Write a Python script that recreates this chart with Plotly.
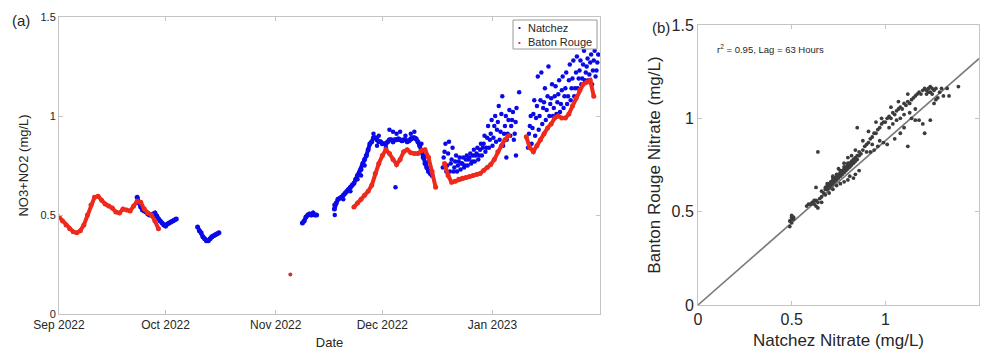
import numpy as np
import pandas as pd
import plotly.graph_objects as go

# ---------------- Panel (a) data: NO3+NO2 (mg/L) ----------------
# Baton Rouge (red) segments: start day (from 2022-09-01), daily readings
br_seg1_start = 0.0
br_seg1 = [0.49, 0.47, 0.45, 0.43, 0.415, 0.41, 0.42, 0.45, 0.50, 0.55, 0.59, 0.595, 0.575, 0.555,
           0.545, 0.535, 0.515, 0.51, 0.53, 0.525, 0.52, 0.545, 0.57, 0.565, 0.53, 0.51, 0.50, 0.47, 0.43]
br_single_day = [65.1]
br_single_val = [0.20]
br_seg2_start = 83.0
br_seg2 = [0.54, 0.56, 0.58, 0.60, 0.62, 0.65, 0.71, 0.76, 0.80, 0.83, 0.81, 0.78, 0.755, 0.78,
           0.82, 0.83, 0.815, 0.81, 0.81, 0.825, 0.83, 0.79, 0.72, 0.64]
br_seg3_start = 108.5
br_seg3 = [0.76, 0.70, 0.665, 0.67, 0.68, 0.685, 0.69, 0.695, 0.70, 0.705, 0.71, 0.725, 0.74,
           0.755, 0.78, 0.82, 0.85, 0.88, 0.90]
br_seg4_start = 131.5
br_seg4 = [0.895, 0.84, 0.82, 0.85, 0.88, 0.91, 0.94, 0.96, 0.99, 1.00, 0.99, 0.99, 1.01, 1.05,
           1.09, 1.13, 1.16, 1.17, 1.18, 1.10]

# Natchez (blue) continuous segments: start day, half-day readings
nz_segA_start = 22.0
nz_segA = [0.59, 0.56, 0.54, 0.525, 0.52, 0.515, 0.505, 0.50, 0.50, 0.505, 0.51, 0.495, 0.48,
           0.47, 0.46, 0.45, 0.445, 0.455, 0.46, 0.465, 0.47, 0.475, 0.48]
nz_segB_start = 39.0
nz_segB = [0.44, 0.42, 0.41, 0.39, 0.38, 0.37, 0.37, 0.38, 0.39, 0.395, 0.40, 0.405, 0.41]
nz_segC_start = 68.5
nz_segC = [0.46, 0.47, 0.49, 0.50, 0.505, 0.50, 0.51, 0.50, 0.50]
nz_segD_start = 77.5
nz_segD = [0.53, 0.56, 0.58, 0.585, 0.59, 0.60, 0.61, 0.62, 0.63, 0.64,
           0.65, 0.66, 0.68, 0.70, 0.71, 0.73, 0.76, 0.78, 0.80, 0.83,
           0.86, 0.87, 0.89, 0.89, 0.88, 0.87, 0.87, 0.86, 0.86, 0.86,
           0.87, 0.88, 0.88, 0.87, 0.88, 0.88, 0.885, 0.88, 0.875, 0.88,
           0.88, 0.87, 0.875, 0.885, 0.89, 0.89, 0.885, 0.87, 0.85, 0.82,
           0.79, 0.76, 0.74, 0.72, 0.71, 0.70]
# Natchez isolated / scattered readings
nz_extra_day = [77.5, 77.6, 80.0, 82.0, 84.0, 85.0, 86.0, 88.5, 89.5, 90.0, 92.0, 93.0, 94.0, 94.7,
                95.0, 96.0, 97.5, 99.0, 100.0, 102.0, 103.0, 104.0, 125.9, 128.6, 129.5]
nz_extra_val = [0.55, 0.50, 0.58, 0.62, 0.68, 0.70, 0.75, 0.91, 0.85, 0.90, 0.84, 0.93, 0.92, 0.64,
                0.91, 0.92, 0.90, 0.91, 0.92, 0.86, 0.80, 0.77, 0.79, 0.80, 1.12]
# Natchez scattered segments: four daily readings (low / two middle / high)
nz_segE_start = 108.0
nz_segE_low = [0.74, 0.72, 0.72, 0.72, 0.72, 0.73, 0.74, 0.75, 0.76, 0.77, 0.78, 0.80, 0.82,
               0.84, 0.85, 0.87, 0.88, 0.85, 0.88, 0.90, 0.88]
nz_segE_mid1 = [0.79, 0.75, 0.76, 0.74, 0.75, 0.76, 0.75, 0.78, 0.77, 0.80, 0.80, 0.84, 0.84,
                0.88, 0.89, 0.93, 0.92, 0.91, 0.91, 0.95, 0.91]
nz_segE_mid2 = [0.82, 0.81, 0.78, 0.77, 0.77, 0.76, 0.78, 0.79, 0.80, 0.81, 0.83, 0.86, 0.89,
                0.91, 0.95, 0.97, 1.01, 0.95, 0.98, 0.98, 0.97]
nz_segE_high = [0.86, 0.87, 0.84, 0.80, 0.79, 0.79, 0.80, 0.81, 0.83, 0.84, 0.86, 0.90, 0.95,
                0.98, 1.00, 1.05, 1.10, 1.00, 1.03, 1.02, 1.04]
nz_segF_start = 132.0
nz_segF_low = [0.84, 0.86, 0.90, 0.93, 0.96, 0.98, 1.00, 1.00, 1.01, 1.02, 1.04, 1.06, 1.08,
               1.10, 1.14, 1.16, 1.18, 1.18, 1.16, 1.20]
nz_segF_mid1 = [0.91, 0.94, 0.99, 1.00, 1.04, 1.03, 1.06, 1.04, 1.07, 1.06, 1.10, 1.10, 1.14,
                1.14, 1.19, 1.19, 1.22, 1.21, 1.23, 1.23]
nz_segF_mid2 = [0.95, 1.01, 1.05, 1.08, 1.07, 1.10, 1.09, 1.10, 1.11, 1.13, 1.14, 1.18, 1.19,
                1.22, 1.23, 1.26, 1.25, 1.27, 1.28, 1.27]
nz_segF_high = [1.00, 1.08, 1.20, 1.22, 1.14, 1.25, 1.16, 1.15, 1.18, 1.20, 1.22, 1.26, 1.28,
                1.30, 1.28, 1.33, 1.29, 1.31, 1.33, 1.31]

month_ticks = ["2022-09-01", "2022-10-01", "2022-11-01", "2022-12-01", "2023-01-01"]
month_labels = ["Sep 2022", "Oct 2022", "Nov 2022", "Dec 2022", "Jan 2023"]
val_ticks = [0, 0.5, 1, 1.5]
val_labels = ["0", "0.5", "1", "1.5"]
legend_names = ["Natchez", "Baton Rouge"]

# ---------------- Panel (b) data: lagged Natchez vs Baton Rouge ----------------
sc_x = [0.49, 0.50, 0.50, 0.51, 0.50, 0.49, 0.51, 0.50,
        0.58, 0.59, 0.60, 0.61, 0.62, 0.63, 0.63, 0.64, 0.65, 0.64, 0.62, 0.66, 0.66, 0.67, 0.68, 0.69, 0.68,
        0.69, 0.70, 0.70, 0.71, 0.71, 0.72, 0.72, 0.73, 0.73, 0.74, 0.74, 0.75, 0.75, 0.76, 0.76, 0.77, 0.77,
        0.78, 0.78, 0.79, 0.79, 0.80, 0.80, 0.81, 0.81, 0.82, 0.82, 0.83, 0.83, 0.84, 0.84, 0.85, 0.85, 0.86,
        0.86, 0.87,
        0.74, 0.76, 0.78, 0.80, 0.81, 0.83, 0.84, 0.86, 0.72, 0.70,
        0.72, 0.75, 0.78, 0.80, 0.82, 0.84,
        0.64, 0.85, 0.63,
        0.88, 0.89, 0.90, 0.91, 0.92, 0.93, 0.94, 0.95, 0.96, 0.97, 0.98, 0.99, 0.90, 0.92, 0.94, 0.96, 0.93,
        0.97, 0.99, 0.91, 0.95, 0.98, 0.88,
        1.00, 1.01, 1.02, 1.03, 1.04, 1.05, 1.06, 1.07, 1.08, 1.09, 1.10, 1.11, 1.12, 1.13, 1.14, 1.15, 1.16,
        1.17, 1.18, 1.19, 1.20, 1.02, 1.04, 1.06, 1.08, 1.05, 1.10, 1.12, 1.01, 1.08, 1.14, 1.16, 1.18, 1.20,
        1.21, 1.10, 1.13, 1.16, 1.03, 1.07, 1.12,
        1.21, 1.22, 1.23, 1.24, 1.25, 1.26, 1.27, 1.24, 1.22, 1.23, 1.25, 1.24, 1.27, 1.31, 1.34, 1.33, 1.39,
        1.30, 1.28, 1.26, 1.29,
        0.66, 0.68, 0.70, 0.71, 0.73, 0.75, 0.77, 0.79, 0.81, 0.83, 0.69, 0.72, 0.74, 0.76, 0.78, 0.80]
sc_y = [0.45, 0.46, 0.47, 0.47, 0.44, 0.42, 0.46, 0.48,
        0.53, 0.54, 0.54, 0.55, 0.54, 0.53, 0.56, 0.55, 0.57, 0.52, 0.56, 0.55, 0.58, 0.60, 0.59, 0.62, 0.63,
        0.64, 0.63, 0.65, 0.66, 0.64, 0.65, 0.67, 0.66, 0.68, 0.67, 0.69, 0.68, 0.70, 0.69, 0.71, 0.70, 0.72,
        0.71, 0.73, 0.72, 0.74, 0.73, 0.75, 0.74, 0.76, 0.75, 0.77, 0.76, 0.78, 0.77, 0.79, 0.80, 0.78, 0.80,
        0.82, 0.81,
        0.64, 0.65, 0.66, 0.67, 0.69, 0.68, 0.70, 0.72, 0.62, 0.60,
        0.69, 0.73, 0.76, 0.79, 0.80, 0.83,
        0.82, 0.95, 0.63,
        0.83, 0.85, 0.86, 0.87, 0.89, 0.90, 0.92, 0.92, 0.94, 0.95, 0.97, 0.98, 0.82, 0.82, 0.83, 0.85, 0.86,
        0.88, 0.87, 0.93, 0.98, 1.00, 0.88,
        0.98, 1.00, 1.01, 1.00, 1.03, 1.02, 1.04, 1.05, 1.06, 1.05, 1.08, 1.07, 1.09, 1.08, 1.10, 1.11, 1.12,
        1.13, 1.14, 1.13, 1.15, 0.95, 0.97, 0.99, 1.00, 0.89, 0.95, 0.85, 0.86, 0.92, 1.00, 0.99, 0.99, 0.97,
        0.92, 1.02, 1.03, 1.05, 1.06, 1.09, 1.13,
        1.16, 1.15, 1.16, 1.17, 1.16, 1.15, 1.16, 1.14, 1.13, 1.14, 1.13, 0.99, 1.10, 1.12, 1.12, 1.16, 1.17,
        1.16, 1.11, 1.08, 1.14,
        0.61, 0.62, 0.64, 0.66, 0.67, 0.69, 0.71, 0.73, 0.74, 0.77, 0.65, 0.68, 0.70, 0.72, 0.74, 0.76]
fit_x = [0.0, 1.5]
fit_y = [0.0, 1.32]
stats_text = "r<sup>2</sup> = 0.95, Lag = 63 Hours"

# ---------------- build series ----------------
base = pd.Timestamp("2022-09-01")


def seg_days(start, vals, step):
    return list(start + step * np.arange(len(vals)))


def to_dates(days):
    return [None if d is None else base + pd.Timedelta(days=float(d)) for d in days]


def join_segments(segs, step):
    days, vals = [], []
    for start, v in segs:
        if days:
            days.append(None)
            vals.append(None)
        days += seg_days(start, v, step)
        vals += v
    return days, vals


br_days, br_vals = join_segments([(br_seg1_start, br_seg1), (br_seg2_start, br_seg2),
                                  (br_seg3_start, br_seg3), (br_seg4_start, br_seg4)], 1.0)
nz_days, nz_vals = join_segments([(nz_segA_start, nz_segA), (nz_segB_start, nz_segB),
                                  (nz_segC_start, nz_segC), (nz_segD_start, nz_segD)], 0.5)
nzs_days, nzs_vals = list(nz_extra_day), list(nz_extra_val)
for start, arrs in [(nz_segE_start, [nz_segE_low, nz_segE_mid1, nz_segE_mid2, nz_segE_high]),
                    (nz_segF_start, [nz_segF_low, nz_segF_mid1, nz_segF_mid2, nz_segF_high])]:
    for k, arr in enumerate(arrs):
        nzs_days += seg_days(start + 0.25 * k, arr, 1.0)
        nzs_vals += arr

FONT = "Liberation Sans, Arial, Helvetica, sans-serif"
AX = "#c4c4c4"
TXT = "#262626"
BLUE = "#0a0ae8"
RED = "#ee2a1c"

fig = go.Figure()
fig.add_trace(go.Scatter(x=to_dates(nz_days), y=nz_vals, mode="lines+markers", name=legend_names[0],
                         line=dict(color=BLUE, width=4), marker=dict(color=BLUE, size=5),
                         connectgaps=False, xaxis="x", yaxis="y", showlegend=False))
fig.add_trace(go.Scatter(x=to_dates(nzs_days), y=nzs_vals, mode="markers", name=legend_names[0],
                         marker=dict(color=BLUE, size=4.5), xaxis="x", yaxis="y", showlegend=False))
fig.add_trace(go.Scatter(x=to_dates(br_days), y=br_vals, mode="lines+markers", name=legend_names[1],
                         line=dict(color=RED, width=4), marker=dict(color=RED, size=5),
                         connectgaps=False, xaxis="x", yaxis="y", showlegend=False))
fig.add_trace(go.Scatter(x=to_dates(br_single_day), y=br_single_val, mode="markers", name=legend_names[1],
                         marker=dict(color="#c8323a", size=4), xaxis="x", yaxis="y", showlegend=False))
fig.add_trace(go.Scatter(x=fit_x, y=fit_y, mode="lines", showlegend=False,
                         line=dict(color="#7a7a7a", width=1.6), xaxis="x2", yaxis="y2"))
fig.add_trace(go.Scatter(x=sc_x, y=sc_y, mode="markers", showlegend=False,
                         marker=dict(color="#3c3c3c", size=3.8), xaxis="x2", yaxis="y2"))

common = dict(showline=True, linecolor=AX, linewidth=1, mirror="ticks", ticks="inside", ticklen=4,
              tickcolor=AX, showgrid=False, zeroline=False, fixedrange=True, automargin=False)

W, H = 988, 350


def px(x):
    return x / W


def py(y):
    return 1 - y / H


annotations = [
    dict(text="(a)", x=px(10), y=py(20), xanchor="left", yanchor="middle", font=dict(size=15, color=TXT)),
    dict(text="(b)", x=px(650), y=py(28), xanchor="left", yanchor="middle", font=dict(size=15, color=TXT)),
    dict(text=legend_names[0], x=px(526), y=py(28), xanchor="left", yanchor="middle",
         font=dict(size=11, color=TXT)),
    dict(text=legend_names[1], x=px(526), y=py(42), xanchor="left", yanchor="middle",
         font=dict(size=11, color=TXT)),
    dict(text="\u2022", x=px(519.5), y=py(28), xanchor="center", yanchor="middle",
         font=dict(size=8, color=BLUE)),
    dict(text="\u2022", x=px(519.5), y=py(42), xanchor="center", yanchor="middle",
         font=dict(size=8, color=RED)),
]
for a in annotations:
    a.update(xref="paper", yref="paper", showarrow=False)
annotations.append(dict(text=stats_text, x=0.09, y=1.37, xref="x2", yref="y2", xanchor="left",
                        yanchor="middle", showarrow=False, font=dict(size=9.5, color=TXT)))

fig.update_layout(
    width=W, height=H,
    margin=dict(l=0, r=0, t=0, b=0, autoexpand=False),
    paper_bgcolor="white", plot_bgcolor="white",
    font=dict(family=FONT, color=TXT),
    showlegend=False,
    xaxis=dict(domain=[px(59), px(600)], anchor="y", type="date",
               range=["2022-09-01", "2023-01-31 06:00"], tickvals=month_ticks, ticktext=month_labels,
               tickfont=dict(size=12, color=TXT), title=dict(text="Date", font=dict(size=13), standoff=6),
               **common),
    yaxis=dict(domain=[py(314), py(17)], anchor="x", range=[0, 1.5],
               tickvals=val_ticks, ticktext=val_labels, tickfont=dict(size=11, color=TXT),
               title=dict(text="NO3+NO2 (mg/L)", font=dict(size=13), standoff=8), **common),
    xaxis2=dict(domain=[px(698), px(979)], anchor="y2", range=[0, 1.5],
                tickvals=val_ticks, ticktext=val_labels, tickfont=dict(size=16, color=TXT),
                title=dict(text="Natchez Nitrate (mg/L)", font=dict(size=17), standoff=6), **common),
    yaxis2=dict(domain=[py(305), py(25)], anchor="x2", range=[0, 1.5],
                tickvals=val_ticks, ticktext=val_labels, tickfont=dict(size=16, color=TXT),
                title=dict(text="Banton Rouge Nitrate (mg/L)", font=dict(size=17), standoff=6), **common),
    shapes=[dict(type="rect", xref="paper", yref="paper", x0=px(513), x1=px(597), y0=py(49), y1=py(20),
                 line=dict(color="#9a9a9a", width=1), fillcolor="white", layer="above")],
    annotations=annotations,
)

fig.write_html("out.html", config={"displayModeBar": False},
               post_script="document.body.style.margin='0';document.body.style.overflow='hidden';")
